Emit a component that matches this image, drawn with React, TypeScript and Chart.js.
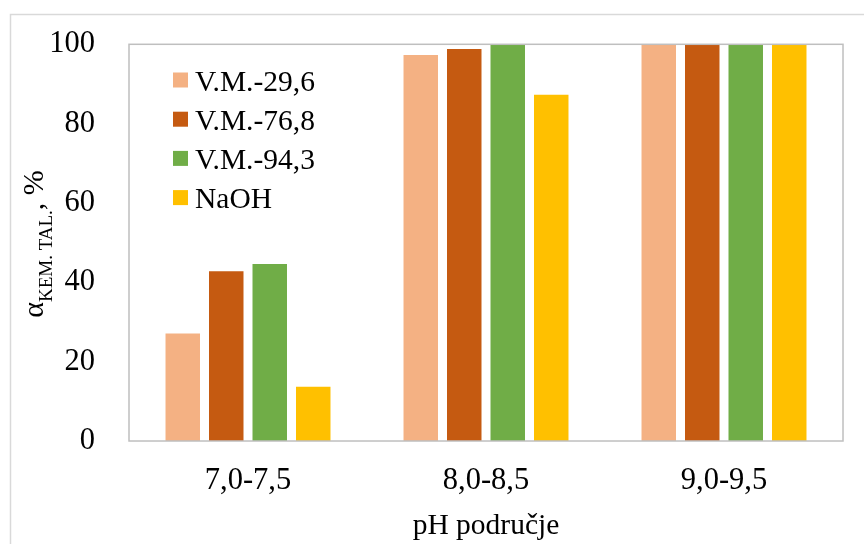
import React, { useEffect, useRef } from "react";
import { Chart, registerables } from "chart.js";

Chart.register(...registerables);

const categories = ["7,0-7,5", "8,0-8,5", "9,0-9,5"];
const seriesNames = ["V.M.-29,6", "V.M.-76,8", "V.M.-94,3", "NaOH"];
const vm296 = [27.1, 97.3, 100];
const vm768 = [42.8, 98.8, 100];
const vm943 = [44.6, 100, 100];
const naoh = [13.7, 87.3, 100];
const seriesColors = ["#F4B183", "#C55A11", "#70AD47", "#FFC000"];
const yTicks = [0, 20, 40, 60, 80, 100];
const xTitle = "pH područje";
const yTitleMain = "α";
const yTitleSub = "KEM. TAL.";
const yTitleEnd = ", %";

const FONT = "'Liberation Serif', 'Times New Roman', serif";

const framePlugin = {
  id: "frame",
  beforeDraw(chart: any) {
    const ctx = chart.ctx;
    ctx.save();
    ctx.fillStyle = "#ffffff";
    ctx.fillRect(0, 0, chart.width, chart.height);
    ctx.strokeStyle = "#d9d9d9";
    ctx.lineWidth = 1.5;
    ctx.strokeRect(10.5, 14.5, chart.width + 20, chart.height + 20);
    ctx.restore();
  },
  afterDatasetsDraw(chart: any) {
    const { ctx, chartArea } = chart;
    ctx.save();
    ctx.strokeStyle = "#bfbfbf";
    ctx.lineWidth = 1.5;
    ctx.strokeRect(chartArea.left, chartArea.top, chartArea.right - chartArea.left, chartArea.bottom - chartArea.top);
    ctx.restore();
  },
  afterDraw(chart: any) {
    const ctx = chart.ctx;
    ctx.save();
    // y-axis title with subscript
    const mainFont = `30px ${FONT}`;
    const subFont = `19px ${FONT}`;
    ctx.font = mainFont;
    const w1 = ctx.measureText(yTitleMain).width;
    const w3 = ctx.measureText(yTitleEnd).width;
    ctx.font = subFont;
    const w2 = ctx.measureText(yTitleSub).width;
    const total = w1 + w2 + w3;
    const cy = 244;
    ctx.translate(43, cy);
    ctx.rotate(-Math.PI / 2);
    ctx.fillStyle = "#000";
    ctx.textBaseline = "alphabetic";
    ctx.textAlign = "left";
    let x = -total / 2;
    ctx.font = mainFont;
    ctx.fillText(yTitleMain, x, 0);
    x += w1;
    ctx.font = subFont;
    ctx.fillText(yTitleSub, x, 9);
    x += w2;
    ctx.font = mainFont;
    ctx.fillText(yTitleEnd, x, 0);
    ctx.restore();

    // legend
    ctx.save();
    ctx.font = `29.5px ${FONT}`;
    ctx.textBaseline = "alphabetic";
    ctx.textAlign = "left";
    chart.data.datasets.forEach((ds: any, i: number) => {
      const cyRow = 80 + i * 39.2;
      ctx.fillStyle = ds.backgroundColor;
      ctx.fillRect(173, cyRow - 7.5, 15, 15);
      ctx.fillStyle = "#000";
      ctx.fillText(ds.label, 195, cyRow + 10.5);
    });
    ctx.restore();
  },
};

export default function App() {
  const ref = useRef<HTMLCanvasElement | null>(null);
  useEffect(() => {
    if (!ref.current) return;
    const values = [vm296, vm768, vm943, naoh];
    const chart = new Chart(ref.current, {
      type: "bar",
      data: {
        labels: categories,
        datasets: seriesNames.map((name, i) => ({
          label: name,
          data: values[i],
          backgroundColor: seriesColors[i],
          borderWidth: 0,
          categoryPercentage: 0.731,
          barPercentage: 0.793,
        })),
      },
      options: {
        animation: false,
        responsive: false,
        devicePixelRatio: 1,
        layout: { padding: { top: 42, right: 21, left: 0, bottom: 0 } },
        plugins: { legend: { display: false }, tooltip: { enabled: false } },
        scales: {
          x: {
            grid: { display: false },
            border: { display: false },
            ticks: { color: "#000", font: { family: FONT, size: 30.5 }, padding: 14 },
            title: {
              display: true,
              text: xTitle,
              color: "#000",
              font: { family: FONT, size: 29.5 },
              padding: { top: 0, bottom: 0 },
            },
            afterFit: (s: any) => {
              s.height = 103;
            },
          },
          y: {
            min: 0,
            max: 100,
            grid: { display: false },
            border: { display: false },
            afterBuildTicks: (s: any) => {
              s.ticks = yTicks.map((v) => ({ value: v }));
            },
            ticks: { color: "#000", font: { family: FONT, size: 30.5 }, padding: 26 },
            afterFit: (s: any) => {
              s.width = 129;
            },
          },
        },
      },
      plugins: [framePlugin],
    });
    return () => chart.destroy();
  }, []);
  return (
    <div style={{ position: "fixed", left: 0, top: 0, width: 864, height: 544, background: "#fff" }}>
      <canvas ref={ref} width={864} height={544} />
    </div>
  );
}
